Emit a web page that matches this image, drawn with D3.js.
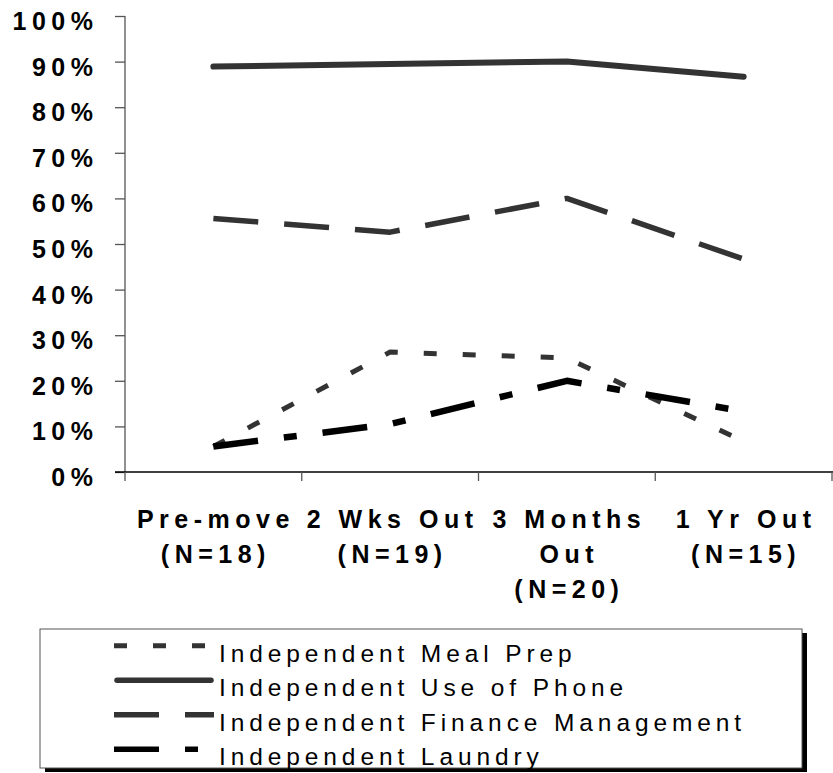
<!DOCTYPE html>
<html>
<head>
<meta charset="utf-8">
<script src="https://cdn.jsdelivr.net/npm/d3@7"></script>
<style>
  html, body { margin: 0; padding: 0; background: #fff; }
  svg { display: block; }
  .ylab { font-family: "Liberation Sans", Arial, sans-serif; font-weight: bold; font-size: 25px; letter-spacing: 5.5px; fill: #000; }
  .xlab { font-family: "Liberation Sans", Arial, sans-serif; font-weight: bold; font-size: 25px; letter-spacing: 5.5px; fill: #000; }
  .leg { font-family: "Liberation Sans", Arial, sans-serif; font-size: 24.5px; letter-spacing: 4.9px; fill: #000; }
</style>
</head>
<body>
<script>
// ---- data ----
const categories = ["Pre-move", "2 Wks Out", "3 Months Out", "1 Yr Out"];
const categoryLabels = [
  ["Pre-move", "(N=18)"],
  ["2 Wks Out", "(N=19)"],
  ["3 Months", "Out", "(N=20)"],
  ["1 Yr Out", "(N=15)"]
];
const seriesNames = ["Independent Meal Prep", "Independent Use of Phone", "Independent Finance Management", "Independent Laundry"];
const mealPrep = [0.056, 0.263, 0.25, 0.067];
const usePhone = [0.889, 0.895, 0.90, 0.867];
const financeMgmt = [0.556, 0.526, 0.60, 0.467];
const laundry = [0.056, 0.105, 0.20, 0.133];
const yTicks = [0, 0.1, 0.2, 0.3, 0.4, 0.5, 0.6, 0.7, 0.8, 0.9, 1.0];

// ---- styles per series ----
const seriesStyles = [
  { color: "#333333", width: 5, dash: "13,26", cap: "butt" },
  { color: "#333333", width: 6, dash: null, cap: "round" },
  { color: "#333333", width: 5.5, dash: "45,26", cap: "butt" },
  { color: "#000000", width: 6.5, dash: "45,26,13,26", cap: "butt" }
];
const seriesValues = [mealPrep, usePhone, financeMgmt, laundry];

const W = 833, H = 773;
const svg = d3.select("body").append("svg").attr("width", W).attr("height", H);

const x = d3.scaleBand().domain(categories).range([125, 832]).padding(0);
const y = d3.scaleLinear().domain([0, 1]).range([472, 16]);
const cx = c => x(c) + x.bandwidth() / 2;

// y axis
const yAxis = d3.axisLeft(y).tickValues(yTicks).tickSize(10).tickPadding(16.5)
  .tickFormat(d3.format(".0%"));
const gy = svg.append("g").attr("transform", "translate(125,0)").call(yAxis);
gy.select(".domain").attr("stroke", "#555").attr("stroke-width", 1.3).attr("d", `M0,${y(1)}V${y(0)}`);
gy.selectAll(".tick line").attr("stroke", "#555").attr("stroke-width", 1.3);
gy.selectAll(".tick text").attr("class", "ylab").attr("dy", 13.5).attr("fill", null);
gy.attr("font-size", null).attr("font-family", null);

// x axis line
svg.append("line").attr("x1", 115).attr("x2", 833).attr("y1", y(0)).attr("y2", y(0))
  .attr("stroke", "#000").attr("stroke-width", 1.5);
// x ticks at band edges
const edges = categories.map(c => x(c)).concat([x(categories[categories.length - 1]) + x.bandwidth()]);
svg.selectAll(".xtick").data(edges).enter().append("line")
  .attr("x1", d => d).attr("x2", d => d).attr("y1", y(0)).attr("y2", y(0) + 9)
  .attr("stroke", "#555").attr("stroke-width", 1.3);

// x labels
categories.forEach((c, i) => {
  const t = svg.append("text").attr("class", "xlab").attr("text-anchor", "middle");
  categoryLabels[i].forEach((ln, j) => {
    t.append("tspan").attr("x", cx(c) + 2.5).attr("y", 528 + j * 35.2).text(ln);
  });
});

// lines
const line = d3.line().x((d, i) => cx(categories[i])).y(d => y(d));
seriesValues.forEach((vals, k) => {
  const s = seriesStyles[k];
  svg.append("path").attr("d", line(vals)).attr("fill", "none")
    .attr("stroke", s.color).attr("stroke-width", s.width)
    .attr("stroke-linecap", s.cap).attr("stroke-linejoin", "round")
    .attr("stroke-dasharray", s.dash);
});

// legend
const lg = svg.append("g");
const lx = 40, ly = 629, lw = 762, lh = 139;
lg.append("rect").attr("x", lx + 5).attr("y", ly + 4).attr("width", lw).attr("height", lh).attr("fill", "#000");
lg.append("rect").attr("x", lx).attr("y", ly).attr("width", lw).attr("height", lh)
  .attr("fill", "#fff").attr("stroke", "#555").attr("stroke-width", 1);
seriesNames.forEach((n, k) => {
  const s = seriesStyles[k];
  const yy = 645.7 + k * 34.5;
  lg.append("line").attr("x1", 114 + (s.cap === "round" ? 3 : 0)).attr("x2", 214 - (s.cap === "round" ? 3 : 0))
    .attr("y1", yy).attr("y2", yy)
    .attr("stroke", s.color).attr("stroke-width", Math.min(s.width, 5.5)).attr("stroke-linecap", s.cap)
    .attr("stroke-dasharray", s.dash);
  lg.append("text").attr("class", "leg").attr("x", 219).attr("y", yy + 16).text(n);
});
</script>
</body>
</html>
